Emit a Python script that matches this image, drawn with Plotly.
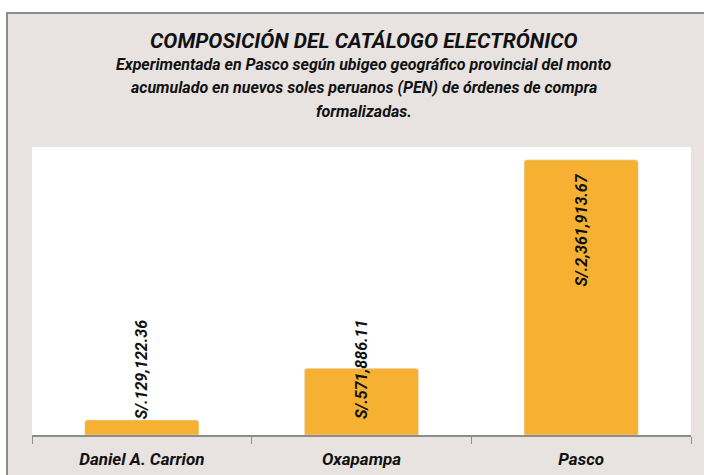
import plotly.graph_objects as go

categories = ["Daniel A. Carrion", "Oxapampa", "Pasco"]
montos = [129122.36, 571886.11, 2361913.67]

title = "COMPOSICIÓN DEL CATÁLOGO ELECTRÓNICO"
subtitle_lines = [
    "Experimentada en Pasco según ubigeo geográfico provincial del monto",
    "acumulado en nuevos soles peruanos (PEN) de órdenes de compra",
    "formalizadas.",
]

FONT = "Roboto, sans-serif"
BAR = "#F6B133"
BG = "#E8E3E1"

W, H = 704, 475
L, R, T, B = 32, 13, 147, 40
PW, PH = W - L - R, H - T - B
YMAX = 2472000

def px(x):
    return (x - L) / PW

def py(y):
    return (H - B - y) / PH

fig = go.Figure()
fig.add_trace(go.Bar(
    x=categories, y=montos, marker_color=BAR, width=0.52,
    hoverinfo="skip",
))

labels = ["S/.{:,.2f}".format(v) for v in montos]
lab_font = dict(family=FONT, size=16, color="#111", weight="bold", style="italic")
for c, v, t in zip(categories, montos, labels):
    bar_px = v / YMAX * PH
    est_len = len(t) * 8
    if bar_px > est_len + 20:
        fig.add_annotation(x=c, y=v, yanchor="top", yshift=-12, text=t, textangle=-90,
                           showarrow=False, xanchor="center", font=lab_font)
    else:
        fig.add_annotation(x=c, y=0, yanchor="bottom", yshift=14, text=t, textangle=-90,
                           showarrow=False, xanchor="center", font=lab_font)

fig.add_annotation(xref="paper", yref="paper", x=px(364), y=py(41), text=title, showarrow=False,
                   xanchor="center", yanchor="middle",
                   font=dict(family=FONT, size=21, color="#111", weight="bold", style="italic"))
for i, line in enumerate(subtitle_lines):
    fig.add_annotation(xref="paper", yref="paper", x=px(364), y=py(65 + 23 * i), text=line,
                       showarrow=False, xanchor="center", yanchor="middle",
                       font=dict(family=FONT, size=16, color="#111", weight="bold", style="italic"))

# white page strips outside the chart frame and the frame border
fig.add_shape(type="rect", xref="paper", yref="paper", x0=px(-5), x1=px(720), y0=py(0), y1=py(13),
              fillcolor="white", line_width=0, layer="below")
fig.add_shape(type="rect", xref="paper", yref="paper", x0=px(-5), x1=px(7), y0=py(-5), y1=py(490),
              fillcolor="white", line_width=0, layer="below")
fig.add_shape(type="rect", xref="paper", yref="paper", x0=px(7), x1=px(720), y0=py(13), y1=py(490),
              fillcolor="rgba(0,0,0,0)", line=dict(color="#8C8C8C", width=2))

fig.update_layout(
    width=W, height=H, margin=dict(l=L, r=R, t=T, b=B),
    paper_bgcolor=BG, plot_bgcolor="white",
    showlegend=False, barcornerradius=3,
    font=dict(family=FONT, color="#111"),
)
fig.update_xaxes(showline=True, linecolor="#8C8C8C", linewidth=2, ticks="outside",
                 tickson="boundaries", ticklen=7, tickcolor="#8C8C8C", tickwidth=1,
                 showgrid=False, fixedrange=True, ticklabelstandoff=8, automargin=False,
                 tickfont=dict(family=FONT, size=17, color="#111", weight="bold", style="italic"))
fig.update_yaxes(range=[0, YMAX], visible=False, showgrid=False, fixedrange=True)

fig.write_html("out.html", config={"displayModeBar": False},
               post_script="document.body.style.margin='0';")
